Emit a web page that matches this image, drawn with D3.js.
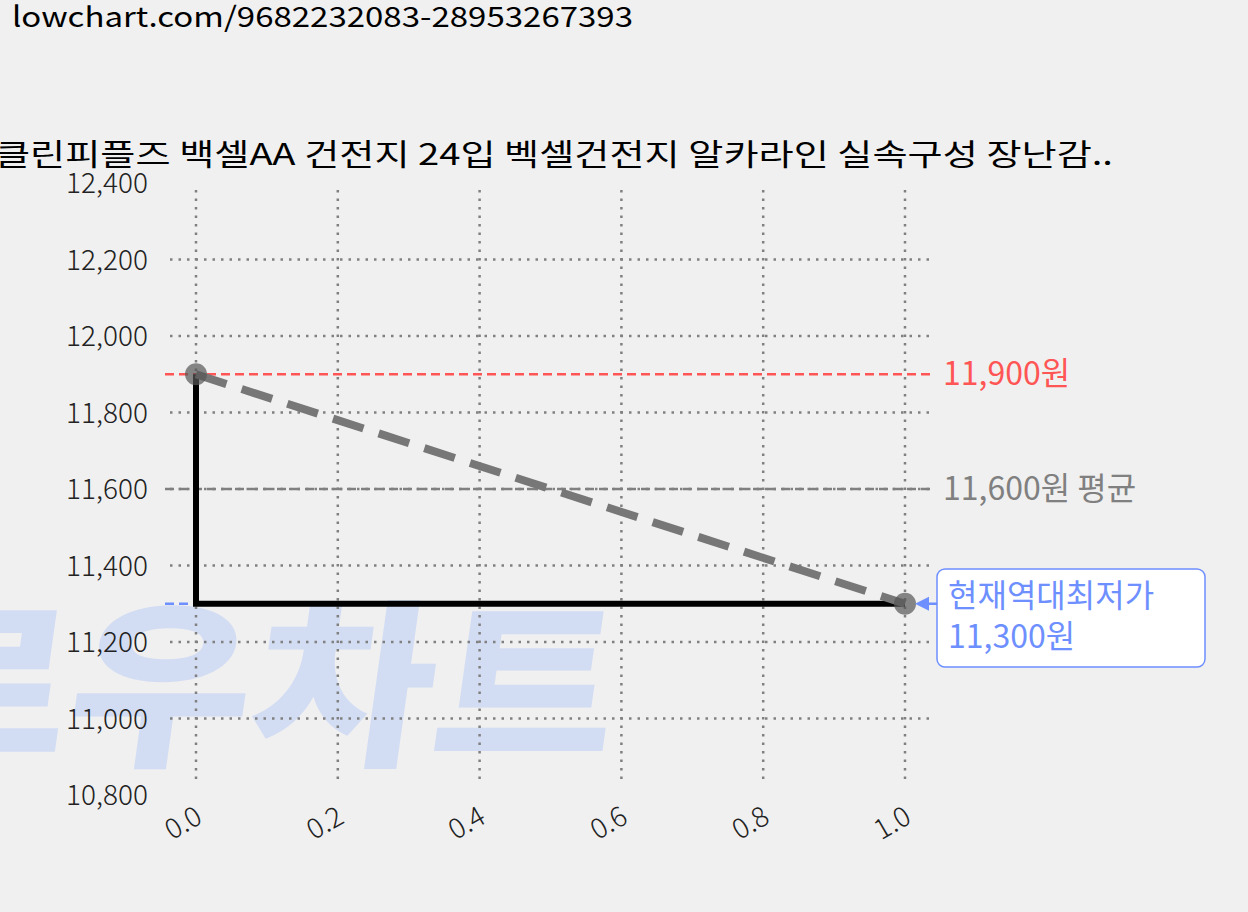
<!DOCTYPE html>
<html><head><meta charset="utf-8">
<script src="https://cdn.jsdelivr.net/npm/d3@7"></script>
<style>
body{margin:0;background:#f0f0f0;font-family:"Noto Sans CJK KR",sans-serif;}
svg{display:block}
</style></head><body>
<svg id="chart" width="1248" height="912"></svg>
<script>
// data
const xTicks = [0, 0.2, 0.4, 0.6, 0.8, 1.0]
const yTicks = [10800, 11000, 11200, 11400, 11600, 11800, 12000, 12200, 12400]
const priceX = [0, 1]
const priceY = [11900, 11300]
const maxPrice = 11900
const avgPrice = 11600
const minPrice = 11300

const svg = d3.select('#chart')
const font = '"Noto Sans CJK KR",sans-serif'
const x = d3.scaleLinear().domain([0, 1]).range([196, 905])
const y = d3.scaleLinear().domain([10800, 12400]).range([795, 183])
const fmt = d3.format(',')

// watermark
svg.append('text').attr('x', -110).attr('y', 752)
	.attr('font-size', 180).attr('font-weight', 900)
	.attr('font-family', '"Noto Sans CJK KR"').attr('fill', '#c9d6f5').attr('opacity', 0.75)
	.attr('textLength', 730).attr('lengthAdjust', 'spacingAndGlyphs')
	.attr('transform', 'skewX(-8) translate(95,0)')
	.text('로우차트')

// header texts
svg.append('text').attr('x', 12).attr('y', 27).attr('font-size', 28).attr('font-family', font)
	.attr('textLength', 621).attr('lengthAdjust', 'spacingAndGlyphs').text('lowchart.com/9682232083-28953267393')
svg.append('text').attr('x', -5).attr('y', 165).attr('font-size', 30).attr('font-family', font)
	.attr('textLength', 1118).attr('lengthAdjust', 'spacingAndGlyphs')
	.text('클린피플즈 백셀AA 건전지 24입 벡셀건전지 알카라인 실속구성 장난감..')

// grid
svg.append('g').selectAll('line').data(yTicks.slice(1, -1)).join('line')
	.attr('x1', 170).attr('x2', 935).attr('y1', d => y(d)).attr('y2', d => y(d))
	.attr('stroke', '#808080').attr('stroke-width', 2.5).attr('stroke-dasharray', '2.5,6')
svg.append('g').selectAll('line').data(xTicks).join('line')
	.attr('x1', d => x(d)).attr('x2', d => x(d)).attr('y1', 190).attr('y2', 785)
	.attr('stroke', '#808080').attr('stroke-width', 2.5).attr('stroke-dasharray', '2.5,6')

// y labels
svg.append('g').selectAll('text').data(yTicks).join('text')
	.attr('x', 148).attr('y', d => y(d) + 10).attr('text-anchor', 'end').attr('font-weight', 300)
	.attr('font-size', 28).attr('font-family', font).attr('fill', '#222').text(d => fmt(d))
// x labels
svg.append('g').selectAll('text').data(xTicks).join('text')
	.attr('transform', d => `translate(${x(d) + 8},${822}) rotate(-30)`).attr('text-anchor', 'end')
	.attr('font-weight', 300)
	.attr('font-size', 28).attr('font-family', font).attr('fill', '#222').text(d => d.toFixed(1))

// reference lines
const refs = [
	{v: maxPrice, c: '#ff5555', label: fmt(maxPrice) + '원'},
	{v: avgPrice, c: '#808080', label: fmt(avgPrice) + '원 평균'}
]
refs.forEach(r => {
	svg.append('line').attr('x1', 165).attr('x2', 935).attr('y1', y(r.v)).attr('y2', y(r.v))
		.attr('stroke', r.c).attr('stroke-width', 2.5).attr('stroke-dasharray', '9,5')
	svg.append('text').attr('x', 943).attr('y', y(r.v) + 11).attr('font-size', 32)
		.attr('font-family', font).attr('fill', r.c).text(r.label)
})
svg.append('line').attr('x1', 165).attr('x2', x(0)).attr('y1', y(minPrice)).attr('y2', y(minPrice))
	.attr('stroke', '#6e8fff').attr('stroke-width', 2.5).attr('stroke-dasharray', '9,5')

// step line
const pts = priceX.map((d, i) => [d, priceY[i]])
svg.append('path')
	.attr('d', `M${x(pts[0][0])},${y(pts[0][1])}V${y(pts[1][1])}H${x(pts[1][0])}`)
	.attr('fill', 'none').attr('stroke', '#000').attr('stroke-width', 6)
// trend
svg.append('path').datum(pts)
	.attr('d', d3.line().x(d => x(d[0])).y(d => y(d[1])))
	.attr('fill', 'none').attr('stroke', '#777').attr('stroke-width', 8).attr('stroke-dasharray', '32,16')
svg.append('g').selectAll('circle').data(pts).join('circle')
	.attr('cx', d => x(d[0])).attr('cy', d => y(d[1])).attr('r', 11)
	.attr('fill', '#555').attr('opacity', 0.7)

// annotation
svg.append('line').attr('x1', 937).attr('x2', x(1) + 14).attr('y1', y(minPrice)).attr('y2', y(minPrice))
	.attr('stroke', '#6e8fff').attr('stroke-width', 2.5)
svg.append('path').attr('d', `M${x(1) + 10},${y(minPrice)}l14,-7v14z`).attr('fill', '#6e8fff')
svg.append('rect').attr('x', 937).attr('y', 569).attr('width', 268).attr('height', 98).attr('rx', 8)
	.attr('fill', '#fff').attr('stroke', '#6e8fff').attr('stroke-width', 1.5)
svg.append('text').attr('x', 948).attr('y', 607).attr('font-size', 32).attr('font-family', font)
	.attr('fill', '#6e8fff').text('현재역대최저가')
svg.append('text').attr('x', 948).attr('y', 648).attr('font-size', 32).attr('font-family', font)
	.attr('fill', '#6e8fff').text(fmt(minPrice) + '원')
</script>
</body></html>
